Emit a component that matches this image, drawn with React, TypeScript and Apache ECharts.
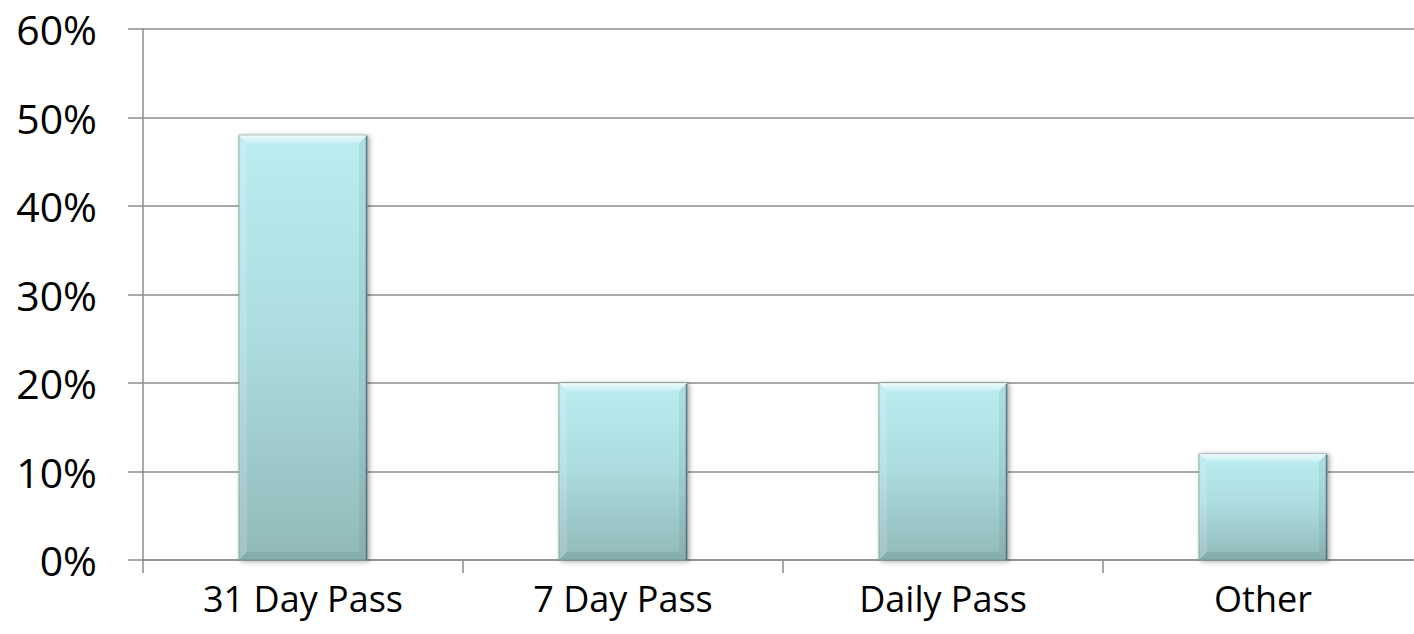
import React, { useEffect, useRef } from "react";
import * as echarts from "echarts";

const categories = ["31 Day Pass", "7 Day Pass", "Daily Pass", "Other"];
const values = [0.48, 0.2, 0.2, 0.12];
const yTicks = [0, 0.1, 0.2, 0.3, 0.4, 0.5, 0.6];

export default function App() {
  const ref = useRef<HTMLDivElement>(null);
  useEffect(() => {
    document.body.style.margin = "0";
    const chart = echarts.init(ref.current!, null, { renderer: "svg" });
    const renderItem = (params: any, api: any) => {
      const top = api.coord([api.value(0), api.value(1)]);
      const base = api.coord([api.value(0), 0]);
      const bw = api.size([1, 0])[0] * 0.4;
      const l = top[0] - bw / 2;
      const r = top[0] + bw / 2;
      const t = top[1];
      const bt = base[1];
      const b = 8;
      return {
        type: "group",
        children: [
          {
            type: "rect",
            shape: { x: l, y: t, width: bw, height: bt - t },
            style: {
              fill: new echarts.graphic.LinearGradient(0, 0, 0, 1, [
                { offset: 0, color: "#bbedf1" },
                { offset: 0.5, color: "#abdbde" },
                { offset: 1, color: "#92b9b9" },
              ]),
              stroke: "#869f9f",
              lineWidth: 1,
              shadowBlur: 5,
              shadowColor: "rgba(0,0,0,0.35)",
              shadowOffsetX: 2,
              shadowOffsetY: 1,
            },
          },
          {
            type: "polygon",
            shape: { points: [[l, t], [r, t], [r - b, t + b], [l + b, t + b]] },
            style: {
              fill: new echarts.graphic.LinearGradient(0, 0, 0, 1, [
                { offset: 0, color: "rgba(255,255,255,0.75)" },
                { offset: 1, color: "rgba(255,255,255,0.2)" },
              ]),
            },
          },
          {
            type: "polygon",
            shape: { points: [[l, t], [l + b, t + b], [l + b, bt - b], [l, bt]] },
            style: { fill: "rgba(255,255,255,0.15)" },
          },
          {
            type: "polygon",
            shape: { points: [[r, t], [r, bt], [r - b, bt - b], [r - b, t + b]] },
            style: { fill: "rgba(20,60,60,0.08)" },
          },
          {
            type: "polygon",
            shape: { points: [[l, bt], [r, bt], [r - b, bt - b], [l + b, bt - b]] },
            style: { fill: "rgba(20,60,60,0.1)" },
          },
          {
            type: "line",
            shape: { x1: r - 0.5, y1: t + 1, x2: r - 0.5, y2: bt },
            style: { stroke: "rgba(30,60,60,0.5)", lineWidth: 1.5 },
          },
        ],
      };
    };
    chart.setOption({
      animation: false,
      backgroundColor: "#ffffff",
      textStyle: { fontFamily: "Open Sans" },
      grid: { left: 143, width: 1280, top: 29, bottom: 74, outerBoundsMode: "none" },
      xAxis: {
        type: "category",
        data: categories,
        axisLine: { lineStyle: { color: "#8c8c8c", width: 1.5 } },
        axisTick: { show: true, length: 13, lineStyle: { color: "#8c8c8c", width: 1.5 } },
        axisLabel: { color: "#000", fontSize: 36, margin: 20, fontFamily: "Open Sans" },
      },
      yAxis: {
        type: "value",
        min: 0,
        max: yTicks[yTicks.length - 1],
        interval: 0.1,
        axisLine: { show: true, lineStyle: { color: "#8c8c8c", width: 1.5 } },
        axisTick: { show: true, length: 15, lineStyle: { color: "#8c8c8c", width: 1.5 } },
        splitLine: { lineStyle: { color: "#8c8c8c", width: 1.5 } },
        axisLabel: {
          color: "#000",
          fontSize: 41,
          margin: 46,
          fontFamily: "Open Sans",
          formatter: (v: number) => Math.round(v * 100) + "%",
        },
      },
      series: [
        {
          type: "custom",
          renderItem,
          data: values.map((v, i) => [i, v]),
          encode: { x: 0, y: 1 },
        },
      ],
    });
    return () => chart.dispose();
  }, []);
  return <div ref={ref} style={{ width: 1414, height: 634 }} />;
}
